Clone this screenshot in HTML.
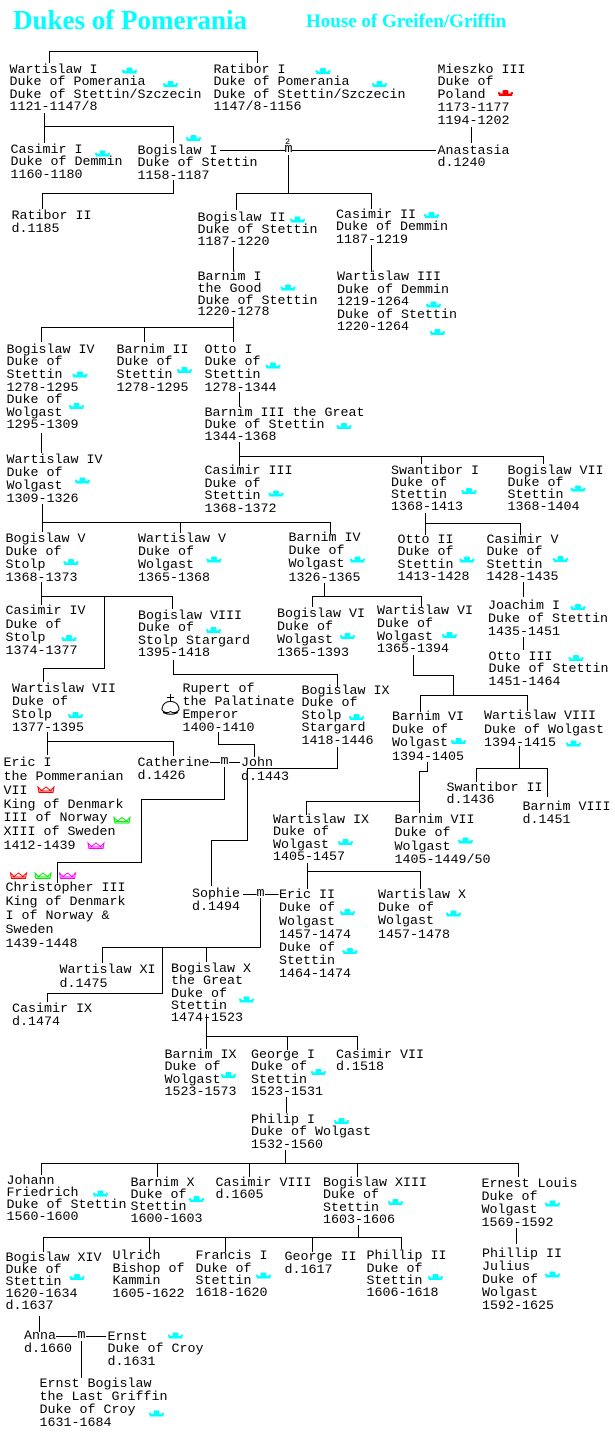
<!DOCTYPE html>
<html><head><meta charset="utf-8">
<style>
html,body{margin:0;padding:0;background:#fff;}
body{width:615px;height:1434px;position:relative;overflow:hidden;}
.b{position:absolute;font-family:"Liberation Mono",monospace;font-size:13.33px;line-height:12.6px;white-space:pre;color:#000;}
.t{position:absolute;font-family:"Liberation Serif",serif;font-weight:bold;color:#00ffff;white-space:pre;}
svg{position:absolute;left:0;top:0;}
</style></head><body>
<svg width="615" height="1434" viewBox="0 0 615 1434">
<defs>
<g id="c"><rect x="4.5" y="0" width="6" height="3.6" rx="1.5"/><rect x="0" y="2.2" width="2.2" height="1.8"/><rect x="12.8" y="2.2" width="2.2" height="1.8"/><rect x="0.7" y="3.4" width="13.6" height="2.6"/></g>
<g id="o" fill="none" stroke-width="1"><path d="M1 1L4.5 4.5L9 1L13.5 4.5L17 1L16 6.5H2Z"/><path d="M2.5 5H15.5"/></g>
</defs>
<g stroke="#000" stroke-width="1" fill="none" shape-rendering="crispEdges">
<path d="M49.5 63V51.5H257.5V63 M44.5 113V143 M44.5 126.5H173.5V143 M220 150.5H285 M292 150.5H436 M288.5 155V193 M471.5 127V143 M173.5 180V193.5H42.5V209 M236.5 210V193.5H371.5V209 M233.5 247V271 M371.5 245V272 M233.5 317V342 M41.5 342V327.5H233.5 M144.5 327.5V342 M239.5 392V407 M41.5 433V453 M239.5 442V466 M239.5 456.5H543.5V464 M421.5 456.5V464 M42.5 504V532 M42.5 522.5H330.5V534 M180.5 522.5V533 M425.5 513V535 M425.5 523.5H520.5V535 M523.5 582V597 M523.5 637V650 M41.5 582V605 M41.5 596.5H172.5V609 M104.5 596.5V668.5H43.5V682 M324.5 583V596.5 M312.5 607V596.5H421.5V607 M173.5 660V674.5H337.5V687 M413.5 655V675.5H453.5V695.5 M420.5 712V695.5H527.5V711 M47.5 732V755 M47.5 741.5H173.5V756 M218.5 732V744.5H254.5V757 M210 762.5H220 M229 762.5H240 M224.5 767V799.5H141.5V862.5H57.5V883 M337.5 747V768.5H247.5V840.5H211.5V886 M427.5 762V771.5H419.5V813 M306.5 815V801.5H419.5 M519.5 746V768.5 M476.5 782V768.5H547.5V797 M307.5 863V889 M307.5 871.5H420.5V889 M243 894.5H256.5 M265 894.5H278.5 M260.5 898V947.5 M102.5 963V947.5H260.5 M162.5 947.5V993.5H47.5V1002 M206.5 947.5V962 M206.5 1014V1049 M206.5 1036.5H357.5V1050 M287.5 1036.5V1050 M286.5 1097V1113 M285.5 1150V1163.5 M41.5 1175V1163.5H518.5V1177 M157.5 1163.5V1177 M249.5 1163.5V1177 M357.5 1163.5V1177 M358.5 1225V1237.5 M43.5 1252V1237.5H401.5V1249 M149.5 1237.5V1252 M225.5 1237.5V1252 M312.5 1237.5V1252 M516.5 1228V1244 M39.5 1316V1332 M56 1336.5H77 M86 1336.5H106 M81.5 1341V1378"/>
</g>
<g stroke="#000" stroke-width="1" fill="none">
<path d="M170.5 694V701.5 M167 697.5H174 M162 710C162 704 166 701.5 170.5 701.5C175 701.5 179 704 179 710 M162 710Q166 714.5 170.5 711.5Q175 714.5 179 710 M163 712.5Q170.5 716 178 712.5"/>
</g>
<g fill="#00ffff">
<use href="#c" x="122" y="67.5"/><use href="#c" x="163" y="81"/><use href="#c" x="315.5" y="68"/><use href="#c" x="372" y="81"/>
<use href="#c" x="186" y="135"/><use href="#c" x="95" y="150.5"/><use href="#c" x="290" y="216.5"/><use href="#c" x="424" y="212"/>
<use href="#c" x="280.5" y="284.5"/><use href="#c" x="426" y="301.5"/><use href="#c" x="430" y="329"/>
<use href="#c" x="72.5" y="371.5"/><use href="#c" x="69" y="403"/><use href="#c" x="177" y="367"/><use href="#c" x="265.5" y="362.5"/>
<use href="#c" x="336.5" y="423"/><use href="#c" x="75" y="477.5"/><use href="#c" x="268.5" y="490.5"/><use href="#c" x="461.5" y="488"/><use href="#c" x="570.5" y="485.5"/>
<use href="#c" x="63.5" y="559"/><use href="#c" x="206.5" y="556.5"/><use href="#c" x="350" y="556.5"/><use href="#c" x="459.5" y="556.5"/><use href="#c" x="553" y="556"/>
<use href="#c" x="570.5" y="604"/><use href="#c" x="568.5" y="655"/><use href="#c" x="61.5" y="635"/><use href="#c" x="206" y="627"/><use href="#c" x="340" y="633"/><use href="#c" x="442" y="632"/>
<use href="#c" x="68" y="712"/><use href="#c" x="349" y="714"/><use href="#c" x="451" y="738"/><use href="#c" x="566" y="740.5"/>
<use href="#c" x="338" y="839"/><use href="#c" x="458" y="837.5"/><use href="#c" x="340" y="909"/><use href="#c" x="342.5" y="948"/><use href="#c" x="446" y="910.5"/>
<use href="#c" x="239" y="996.5"/><use href="#c" x="221" y="1072"/><use href="#c" x="311" y="1069"/><use href="#c" x="334" y="1118"/>
<use href="#c" x="93" y="1190.5"/><use href="#c" x="189" y="1196"/><use href="#c" x="388" y="1199"/><use href="#c" x="545" y="1200.5"/>
<use href="#c" x="69.5" y="1274"/><use href="#c" x="256" y="1272.5"/><use href="#c" x="428" y="1274"/><use href="#c" x="545" y="1271.5"/>
<use href="#c" x="168" y="1332.5"/><use href="#c" x="149" y="1410.5"/>
</g>
<use href="#c" x="498" y="90" fill="#ff0000"/>
<use href="#o" x="37" y="786" stroke="#ff0000"/>
<use href="#o" x="113" y="816.5" stroke="#00ee00"/>
<use href="#o" x="87" y="842" stroke="#ff00ff"/>
<use href="#o" x="9.5" y="872" stroke="#ff0000"/>
<use href="#o" x="34" y="872" stroke="#00ee00"/>
<use href="#o" x="58.5" y="872" stroke="#ff00ff"/>
</svg>

<div class="t" style="left:13px;top:6.7px;font-size:27px;line-height:27px;">Dukes of Pomerania</div>
<div class="t" style="left:306px;top:11.8px;font-size:19px;line-height:19px;">House of Greifen/Griffin</div>

<div class="b" style="left:9.5px;top:64.6px;">Wartislaw I
Duke of Pomerania
Duke of Stettin/Szczecin
1121-1147/8</div>
<div class="b" style="left:213.5px;top:64.6px;">Ratibor I
Duke of Pomerania
Duke of Stettin/Szczecin
1147/8-1156</div>
<div class="b" style="left:437.5px;top:64.5px;line-height:12.9px;">Mieszko III
Duke of
Poland
1173-1177
1194-1202</div>
<div class="b" style="left:10.5px;top:144.6px;">Casimir I
Duke of Demmin
1160-1180</div>
<div class="b" style="left:137.5px;top:145.6px;">Bogislaw I
Duke of Stettin
1158-1187</div>
<div class="b" style="left:285px;top:138.4px;font-size:8.5px;line-height:8.5px;">2</div>
<div class="b" style="left:284.5px;top:144.2px;">m</div>
<div class="b" style="left:437.5px;top:145.6px;">Anastasia
d.1240</div>
<div class="b" style="left:11.5px;top:211.2px;">Ratibor II
d.1185</div>
<div class="b" style="left:197.5px;top:212.5px;line-height:12px;">Bogislaw II
Duke of Stettin
1187-1220</div>
<div class="b" style="left:336px;top:209.6px;">Casimir II
Duke of Demmin
1187-1219</div>
<div class="b" style="left:197.5px;top:272px;line-height:11.8px;">Barnim I
the Good
Duke of Stettin
1220-1278</div>
<div class="b" style="left:337px;top:272.3px;line-height:12.5px;">Wartislaw III
Duke of Demmin
1219-1264
Duke of Stettin
1220-1264</div>
<div class="b" style="left:6.5px;top:344.9px;">Bogislaw IV
Duke of
Stettin
1278-1295
Duke of
Wolgast
1295-1309</div>
<div class="b" style="left:116.5px;top:344.9px;">Barnim II
Duke of
Stettin
1278-1295</div>
<div class="b" style="left:204.5px;top:344.9px;">Otto I
Duke of
Stettin
1278-1344</div>
<div class="b" style="left:204.5px;top:407.5px;line-height:12px;">Barnim III the Great
Duke of Stettin
1344-1368</div>
<div class="b" style="left:6.5px;top:454.4px;line-height:13px;">Wartislaw IV
Duke of
Wolgast
1309-1326</div>
<div class="b" style="left:204.5px;top:466.3px;line-height:12.4px;">Casimir III
Duke of
Stettin
1368-1372</div>
<div class="b" style="left:391px;top:465.9px;line-height:12px;">Swantibor I
Duke of
Stettin
1368-1413</div>
<div class="b" style="left:507.5px;top:465.8px;line-height:12.2px;">Bogislaw VII
Duke of
Stettin
1368-1404</div>
<div class="b" style="left:5.5px;top:532.6px;line-height:13.3px;">Bogislaw V
Duke of
Stolp
1368-1373</div>
<div class="b" style="left:138px;top:532.6px;line-height:13.3px;">Wartislaw V
Duke of
Wolgast
1365-1368</div>
<div class="b" style="left:288.5px;top:531.9px;line-height:13.2px;">Barnim IV
Duke of
Wolgast
1326-1365</div>
<div class="b" style="left:397.5px;top:535px;line-height:12.4px;">Otto II
Duke of
Stettin
1413-1428</div>
<div class="b" style="left:486.5px;top:535px;line-height:12.4px;">Casimir V
Duke of
Stettin
1428-1435</div>
<div class="b" style="left:488px;top:601.1px;line-height:12.8px;">Joachim I
Duke of Stettin
1435-1451</div>
<div class="b" style="left:488.5px;top:651.7px;line-height:12.5px;">Otto III
Duke of Stettin
1451-1464</div>
<div class="b" style="left:5.5px;top:605.3px;line-height:13.3px;">Casimir IV
Duke of
Stolp
1374-1377</div>
<div class="b" style="left:138px;top:610.7px;line-height:12.4px;">Bogislaw VIII
Duke of
Stolp Stargard
1395-1418</div>
<div class="b" style="left:277px;top:607.7px;line-height:13px;">Bogislaw VI
Duke of
Wolgast
1365-1393</div>
<div class="b" style="left:377px;top:606.1px;line-height:12.8px;">Wartislaw VI
Duke of
Wolgast
1365-1394</div>
<div class="b" style="left:12px;top:682.7px;line-height:13.1px;">Wartislaw VII
Duke of
Stolp
1377-1395</div>
<div class="b" style="left:182.5px;top:682.7px;line-height:13.1px;">Rupert of
the Palatinate
Emperor
1400-1410</div>
<div class="b" style="left:301.5px;top:685.6px;">Bogislaw IX
Duke of
Stolp
Stargard
1418-1446</div>
<div class="b" style="left:392px;top:710.9px;line-height:13.3px;">Barnim VI
Duke of
Wolgast
1394-1405</div>
<div class="b" style="left:484px;top:710.3px;line-height:13.3px;">Wartislaw VIII
Duke of Wolgast
1394-1415</div>
<div class="b" style="left:3.5px;top:757.4px;line-height:13.7px;">Eric I
the Pommeranian
VII
King of Denmark
III of Norway
XIII of Sweden
1412-1439</div>
<div class="b" style="left:137.5px;top:756.7px;line-height:13.7px;">Catherine
d.1426</div>
<div class="b" style="left:220.5px;top:756.2px;">m</div>
<div class="b" style="left:241px;top:756.5px;line-height:14px;">John
d.1443</div>
<div class="b" style="left:446.5px;top:783.1px;line-height:12.3px;">Swantibor II
d.1436</div>
<div class="b" style="left:522.5px;top:802.2px;line-height:12.7px;">Barnim VIII
d.1451</div>
<div class="b" style="left:273px;top:814.7px;line-height:12.5px;">Wartislaw IX
Duke of
Wolgast
1405-1457</div>
<div class="b" style="left:394.5px;top:814.4px;line-height:13.1px;">Barnim VII
Duke of
Wolgast
1405-1449/50</div>
<div class="b" style="left:5.5px;top:881.5px;line-height:14px;">Christopher III
King of Denmark
I of Norway &amp;
Sweden
1439-1448</div>
<div class="b" style="left:192px;top:888px;line-height:13px;">Sophie
d.1494</div>
<div class="b" style="left:256.5px;top:888.2px;">m</div>
<div class="b" style="left:279px;top:889.4px;line-height:13.1px;">Eric II
Duke of
Wolgast
1457-1474
Duke of
Stettin
1464-1474</div>
<div class="b" style="left:378px;top:888.5px;line-height:13.4px;">Wartislaw X
Duke of
Wolgast
1457-1478</div>
<div class="b" style="left:59.5px;top:964.3px;line-height:13.3px;">Wartislaw XI
d.1475</div>
<div class="b" style="left:12px;top:1002.6px;line-height:13.3px;">Casimir IX
d.1474</div>
<div class="b" style="left:171px;top:964.1px;line-height:12.2px;">Bogislaw X
the Great
Duke of
Stettin
1474-1523</div>
<div class="b" style="left:164.5px;top:1049.7px;line-height:12.4px;">Barnim IX
Duke of
Wolgast
1523-1573</div>
<div class="b" style="left:251px;top:1049.7px;line-height:12.4px;">George I
Duke of
Stettin
1523-1531</div>
<div class="b" style="left:336px;top:1049.6px;line-height:12.7px;">Casimir VII
d.1518</div>
<div class="b" style="left:251px;top:1115.1px;line-height:12.2px;">Philip I
Duke of Wolgast
1532-1560</div>
<div class="b" style="left:6.5px;top:1175.9px;line-height:12.1px;">Johann
Friedrich
Duke of Stettin
1560-1600</div>
<div class="b" style="left:130.5px;top:1178.2px;line-height:12.1px;">Barnim X
Duke of
Stettin
1600-1603</div>
<div class="b" style="left:215.5px;top:1177.9px;">Casimir VIII
d.1605</div>
<div class="b" style="left:323px;top:1178px;line-height:12.4px;">Bogislaw XIII
Duke of
Stettin
1603-1606</div>
<div class="b" style="left:481.5px;top:1177.7px;line-height:13px;">Ernest Louis
Duke of
Wolgast
1569-1592</div>
<div class="b" style="left:5.5px;top:1253.2px;line-height:12px;">Bogislaw XIV
Duke of
Stettin
1620-1634
d.1637</div>
<div class="b" style="left:112.5px;top:1251.2px;">Ulrich
Bishop of
Kammin
1605-1622</div>
<div class="b" style="left:195.5px;top:1251.4px;line-height:12.2px;">Francis I
Duke of
Stettin
1618-1620</div>
<div class="b" style="left:284.5px;top:1252.4px;line-height:12.3px;">George II
d.1617</div>
<div class="b" style="left:366.5px;top:1251.4px;line-height:12.2px;">Phillip II
Duke of
Stettin
1606-1618</div>
<div class="b" style="left:482px;top:1247.6px;line-height:13.2px;">Phillip II
Julius
Duke of
Wolgast
1592-1625</div>
<div class="b" style="left:24px;top:1331.4px;line-height:12.3px;">Anna
d.1660</div>
<div class="b" style="left:77.5px;top:1330.2px;">m</div>
<div class="b" style="left:107.5px;top:1331.5px;line-height:12.8px;">Ernst
Duke of Croy
d.1631</div>
<div class="b" style="left:39.5px;top:1378.8px;line-height:12.9px;">Ernst Bogislaw
the Last Griffin
Duke of Croy
1631-1684</div>
</body></html>
